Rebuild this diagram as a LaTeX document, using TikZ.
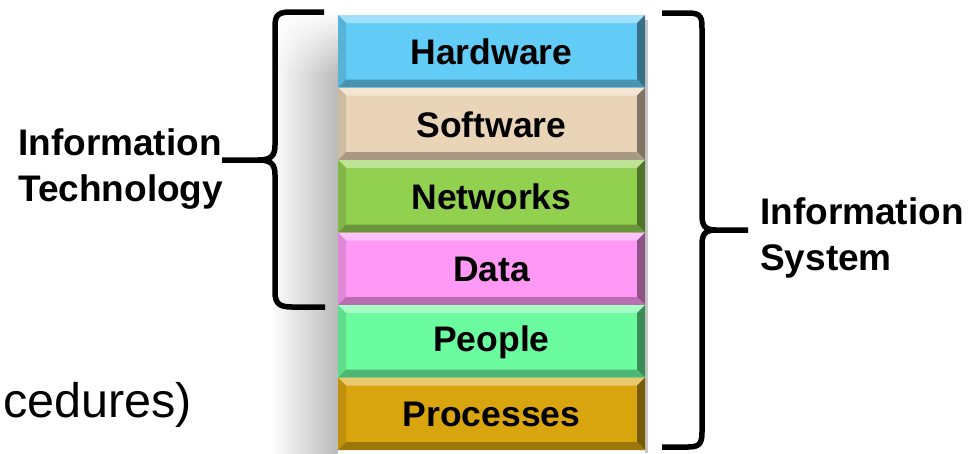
\documentclass[tikz,border=0pt]{standalone}
\usepackage{fontspec}
\setmainfont{Liberation Sans}
\usetikzlibrary{fadings}
\tikzfading[name=fadedown, top color=transparent!0, bottom color=transparent!100]

\definecolor{hwblue}{HTML}{63CCF6}
\definecolor{swtan}{HTML}{E9D4B8}
\definecolor{nwgreen}{HTML}{92D050}
\definecolor{datapink}{HTML}{FF99F5}
\definecolor{pplmint}{HTML}{6BFC9F}
\definecolor{procgold}{HTML}{D9A50E}

\tikzset{
  layertext/.style={font=\fontsize{35.5}{40}\selectfont\bfseries, text=black, inner sep=0pt},
  sidelabel/.style={font=\fontsize{37}{42}\selectfont\bfseries, text=black, inner sep=0pt, anchor=base west},
  brace/.style={line width=5.5pt, line join=round, draw=black},
}

% one bevelled layer of the stack: #1 name, #2 top y, #3 colour, #4 label
\newcommand\stacklayer[4]{%
  \pgfmathsetmacro\ya{#2}%
  \pgfmathsetmacro\yb{#2+72.5}%
  \pgfmathsetmacro\yc{#2+8}%
  \pgfmathsetmacro\yd{#2+72.5-8}%
  \fill[#3] (338,\ya) rectangle (645,\yb);
  \fill[#3!60!white] (338,\ya) -- (645,\ya) -- (637,\yc) -- (346,\yc) -- cycle;
  \fill[#3!88!black] (338,\ya) -- (346,\yc) -- (346,\yd) -- (338,\yb) -- cycle;
  \fill[#3!55!black] (645,\ya) -- (637,\yc) -- (637,\yd) -- (645,\yb) -- cycle;
  \fill[#3!72!black] (338,\yb) -- (346,\yd) -- (637,\yd) -- (645,\yb) -- cycle;
  \node[layertext] (#1) at (491.5,{#2+37}) {#4};
}

\begin{document}
\begin{tikzpicture}[x=1pt,y=-1pt]
\useasboundingbox (0,0) rectangle (973,453);
\fill[white] (0,0) rectangle (973,453);

% drop shadow to the left of the stack
\shade[left color=white, right color=black!27] (270,15) rectangle (338,453);
\fill[white, path fading=fadedown] (268,10) rectangle (340,75);
\fill[black!22] (645,20) rectangle (648,453);

% the six layers
\stacklayer{hw}{15}{hwblue}{Hardware}
\stacklayer{sw}{87.5}{swtan}{Software}
\stacklayer{nw}{160}{nwgreen}{Networks}
\stacklayer{data}{232.5}{datapink}{Data}
\stacklayer{ppl}{305}{pplmint}{People}
\stacklayer{proc}{377.5}{procgold}{Processes}

% brace around the technology layers
\coordinate (itTip) at (222,160);
\coordinate (itTop) at (324,12);
\coordinate (itBot) at (325,307);
\draw[brace] (itTop) -- (290,12) .. controls (275,12) and (275,18) .. (275,30)
  -- (275,145) .. controls (275,156) and (271,160) .. (258,160) -- (itTip);
\draw[brace] (258,160) .. controls (271,160) and (275,164) .. (275,175)
  -- (275,292) .. controls (275,304) and (280,307) .. (292,307) -- (itBot);

% brace around the whole system
\coordinate (isTip) at (748,230);
\coordinate (isTop) at (662,13);
\coordinate (isBot) at (662,447);
\draw[brace] (isTop) -- (688,13) .. controls (702,13) and (702,18) .. (702,30)
  -- (702,215) .. controls (702,226) and (705,230) .. (716,230) -- (isTip);
\draw[brace] (716,230) .. controls (705,230) and (702,234) .. (702,245)
  -- (702,432) .. controls (702,444) and (699,447) .. (688,447) -- (isBot);

% side labels
\node[sidelabel] (itA) at (18,155) {Information};
\node[sidelabel] (itB) at (18,201) {Technology};
\node[sidelabel] (isA) at (760,224) {Information};
\node[sidelabel] (isB) at (760,270) {System};

% line of running text at the lower left
\node[font=\fontsize{48.5}{56}\selectfont, inner sep=0pt, anchor=base east] (proc-text) at (192,417) {cedures)};
\end{tikzpicture}
\end{document}
